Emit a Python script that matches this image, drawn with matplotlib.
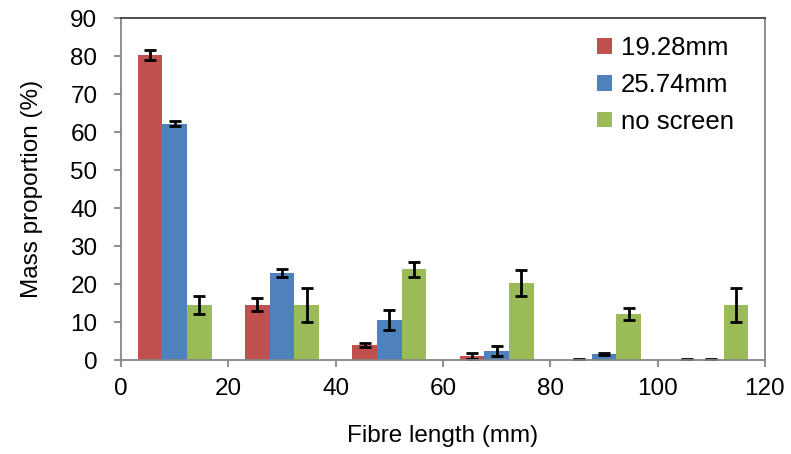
import matplotlib
matplotlib.use("Agg")
import matplotlib.pyplot as plt
import numpy as np

plt.rcParams['font.family'] = ['Liberation Sans', 'DejaVu Sans']

# group centres on the fibre length axis (mm)
lengths = [10, 30, 50, 70, 90, 110]
series = ['19.28mm', '25.74mm', 'no screen']

screen_1928 = [80.3, 14.5, 3.9, 1.1, 0.1, 0.1]
err_1928 = [1.3, 1.7, 0.6, 0.7, 0.1, 0.1]
screen_2574 = [62.2, 22.9, 10.5, 2.4, 1.6, 0.1]
err_2574 = [0.6, 1.1, 2.6, 1.3, 0.3, 0.1]
no_screen = [14.5, 14.5, 23.9, 20.3, 12.1, 14.5]
err_none = [2.3, 4.4, 2.0, 3.5, 1.6, 4.4]

colors = ['#C0504D', '#4F81BD', '#9BBB59']
fs = 17.5

fig = plt.figure(figsize=(7.91, 4.54), dpi=100)
ax = fig.add_axes([0.153, 0.207, 0.814, 0.753])

x = np.array(lengths, dtype=float)
w = 4.6
for i, (vals, errs) in enumerate(zip([screen_1928, screen_2574, no_screen],
                                     [err_1928, err_2574, err_none])):
    ax.bar(x + (i - 1) * w, vals, width=w, color=colors[i], label=series[i],
           yerr=errs, capsize=4.5,
           error_kw=dict(ecolor='black', elinewidth=2.0, capthick=2.0))

ax.set_xlim(0, 120)
ax.set_ylim(0, 90)
ax.set_xticks(range(0, 121, 20))
ax.set_yticks(range(0, 91, 10))
ax.tick_params(labelsize=fs, colors='#868686', labelcolor='black',
               length=5, width=1.3, direction='out')
ax.tick_params(axis='y', pad=12)
ax.tick_params(axis='x', pad=8)

for side in ['left', 'bottom', 'right']:
    ax.spines[side].set_color('#868686')
    ax.spines[side].set_linewidth(1.3)
ax.spines['top'].set_color('#404040')
ax.spines['top'].set_linewidth(1.3)

ax.set_xlabel('Fibre length (mm)', fontsize=fs, labelpad=18)
ax.set_ylabel('Mass proportion (%)', fontsize=fs, labelpad=20)

ax.legend(loc='upper left', frameon=False, fontsize=18.5,
          handlelength=0.55, handleheight=0.55, handletextpad=0.35,
          labelspacing=0.5, borderpad=0, bbox_to_anchor=(0.72, 0.985))

fig.savefig('out.png', dpi=100)
